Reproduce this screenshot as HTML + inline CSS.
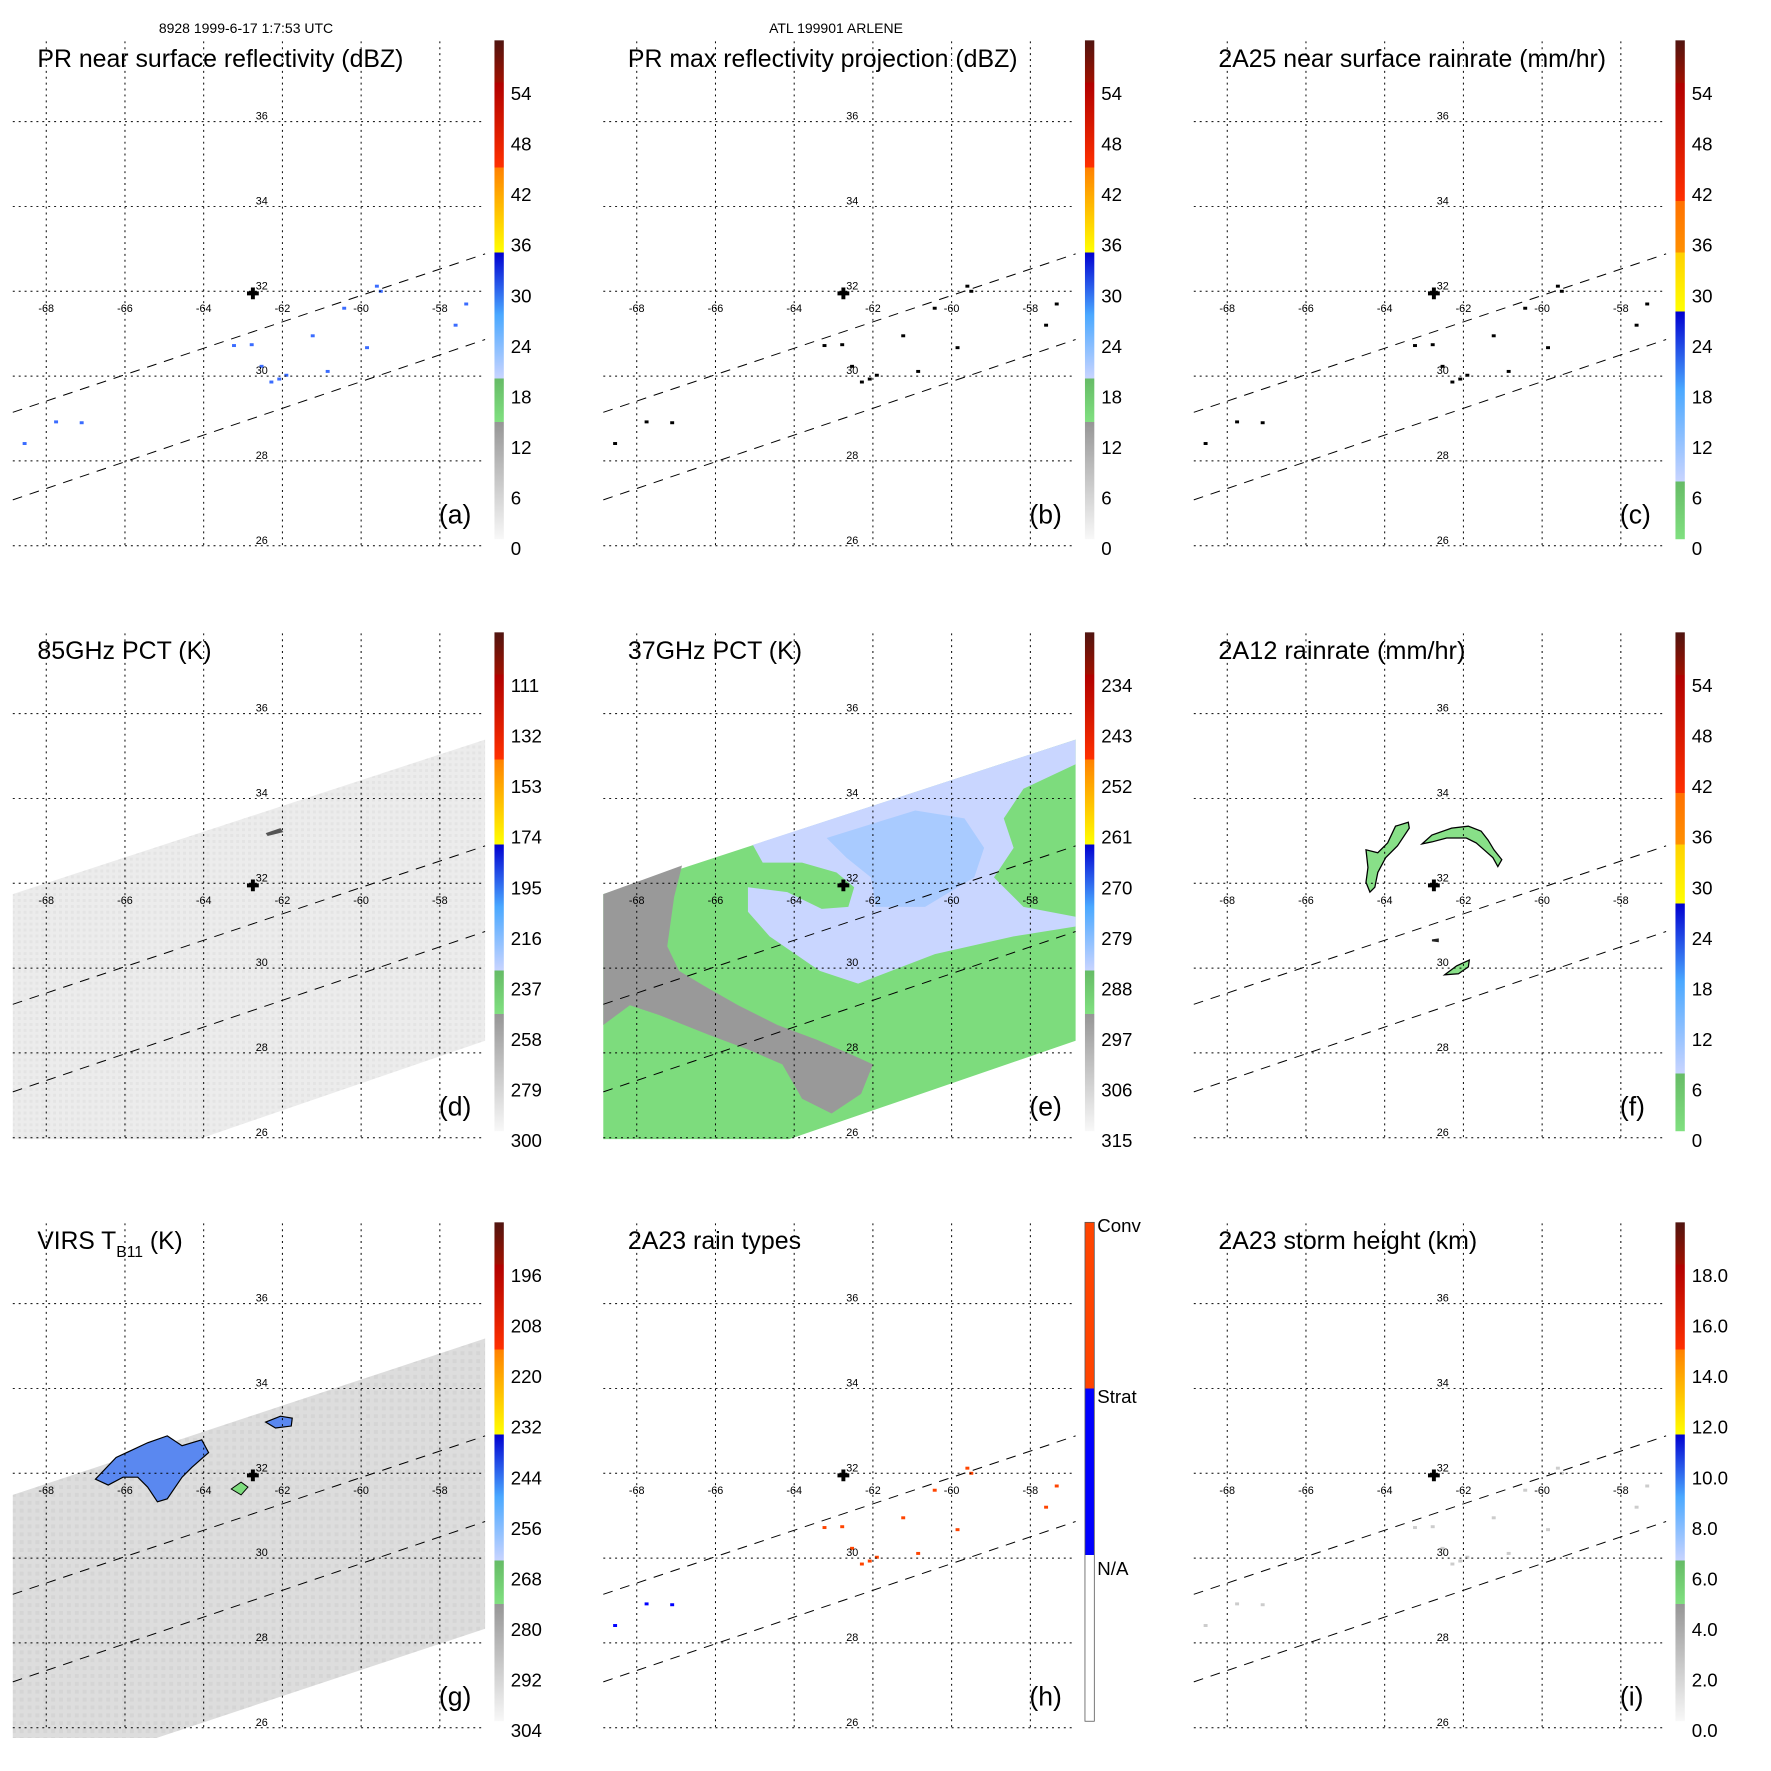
<!DOCTYPE html>
<html><head><meta charset="utf-8"><style>
html,body{margin:0;padding:0;background:#fff;}
svg{display:block;font-family:"Liberation Sans",Arial,sans-serif;}
</style></head><body>
<svg id="fig" width="1771" height="1771" viewBox="0 0 1771 1771" xmlns="http://www.w3.org/2000/svg">
<defs>
<pattern id="tex" width="6" height="6" patternUnits="userSpaceOnUse"><rect width="6" height="6" fill="#ececec"/><rect width="3" height="3" fill="#e4e4e4"/></pattern>
<pattern id="tex2" width="8" height="8" patternUnits="userSpaceOnUse"><rect width="8" height="8" fill="#dddddd"/><rect x="4" y="4" width="4" height="4" fill="#d5d5d5"/></pattern>
</defs>
<text x="246" y="33" font-size="14" text-anchor="middle">8928 1999-6-17 1:7:53 UTC</text>
<text x="836" y="33" font-size="14" text-anchor="middle">ATL 199901 ARLENE</text>
</svg>
<script>
const NS='http://www.w3.org/2000/svg';
const svg=document.getElementById('fig');
// ---- data ----
const lonTicks=[-68,-66,-64,-62,-60,-58];
const latTicks=[36,34,32,30,28,26];
const ticksDBZ=['54','48','42','36','30','24','18','12','6','0'];
const ticks85=['111','132','153','174','195','216','237','258','279','300'];
const ticks37=['234','243','252','261','270','279','288','297','306','315'];
const ticksVIRS=['196','208','220','232','244','256','268','280','292','304'];
const ticksHeight=['18.0','16.0','14.0','12.0','10.0','8.0','6.0','4.0','2.0','0.0'];
const rainTypeLabels=['Conv','Strat','N/A'];
const stormCenter=[-62.75,31.95];
const speckLon=[-63.23,-62.78,-62.53,-62.28,-62.08,-61.9,-61.23,-60.85,-60.43,-59.6,-57.33,-67.75,-67.1,-68.55,-59.85,-59.5,-57.6];
const speckLat=[30.72,30.74,30.23,29.86,29.93,30.02,30.95,30.11,31.6,32.12,31.7,28.92,28.9,28.41,30.67,32.0,31.2];

function lonX(lon){return 47+(lon+68)*40;}
function latY(lat){return 296-(lat-32)*43.1;}
function el(tag,parent){const e=document.createElementNS(NS,tag);parent.appendChild(e);return e;}

const bandsA=[[0,'#f8f8f8'],[0.235,'#969696'],[0.235,'#80e080'],[0.322,'#66bb66'],[0.322,'#c8d4ff'],[0.45,'#4aa8ff'],[0.575,'#0000d0'],[0.575,'#ffff00'],[0.745,'#ff8000'],[0.745,'#ff3000'],[0.915,'#b00000'],[0.915,'#a01000'],[1,'#501510']];
const bandsC=[[0,'#80e080'],[0.116,'#66bb66'],[0.116,'#c8d4ff'],[0.3,'#4aa8ff'],[0.456,'#0000d0'],[0.456,'#ffff00'],[0.575,'#ffd000'],[0.575,'#ff9000'],[0.678,'#ff7000'],[0.678,'#ff3000'],[0.914,'#b00000'],[0.914,'#a01000'],[1,'#501510']];
const bandsH=[[0,'#ffffff'],[0.333,'#ffffff'],[0.333,'#0000ff'],[0.667,'#0000ff'],[0.667,'#ff4400'],[1,'#ff4400']];

const panels=[
 {c:0,r:0,t:'PR near surface reflectivity (dBZ)',tl:372,l:'(a)',ticks:ticksDBZ,b:bandsA,k:'a'},
 {c:1,r:0,t:'PR max reflectivity projection (dBZ)',tl:396,l:'(b)',ticks:ticksDBZ,b:bandsA,k:'b'},
 {c:2,r:0,t:'2A25 near surface rainrate (mm/hr)',tl:394,l:'(c)',ticks:ticksDBZ,b:bandsC,k:'c'},
 {c:0,r:1,t:'85GHz PCT (K)',tl:177,l:'(d)',ticks:ticks85,b:bandsA,k:'d'},
 {c:1,r:1,t:'37GHz PCT (K)',tl:177,l:'(e)',ticks:ticks37,b:bandsA,k:'e'},
 {c:2,r:1,t:'2A12 rainrate (mm/hr)',tl:251,l:'(f)',ticks:ticksDBZ,b:bandsC,k:'f'},
 {c:0,r:2,t:'VIRS',tl:0,l:'(g)',ticks:ticksVIRS,b:bandsA,k:'g'},
 {c:1,r:2,t:'2A23 rain types',tl:176,l:'(h)',ticks:null,b:bandsH,k:'h'},
 {c:2,r:2,t:'2A23 storm height (km)',tl:263,l:'(i)',ticks:ticksHeight,b:bandsA,k:'i'}
];
const colX=[0,590.5,1181], rowY=[0,592,1182];

function poly(g,pts,fill,stroke,sw,name){
 const p=el('polygon',g);
 
 
 p.setAttribute('points',pts.map(q=>q.join(',')).join(' '));
 p.setAttribute('fill',fill);
 if(stroke){p.setAttribute('stroke',stroke);p.setAttribute('stroke-width',sw);}
 return p;
}

panels.forEach(P=>{
 const g=el('g',svg);
 
 
 g.setAttribute('transform','translate('+colX[P.c]+','+rowY[P.r]+') scale(0.984)');
 const swath=[[13,307],[493,150],[493,456],[202,556],[13,556]];
 if(P.k==='d'){poly(g,swath,'url(#tex)',null,0,'pct85-swath');
   poly(g,[[270,245],[285,240],[288,244],[272,248]],'#555',null,0,'pct85-cold-spot');}
 if(P.k==='e'){
   poly(g,swath,'#7ddc7d',null,0,'pct37-swath');
   poly(g,[[13,307],[93,278],[85,310],[78,360],[90,385],[115,400],[150,420],[190,440],[230,455],[265,470],[287,480],[275,510],[245,530],[215,515],[195,480],[160,465],[120,450],[70,430],[40,420],[13,440]],'#999',null,0,'pct37-warm-region');
   poly(g,[[165,257],[493,150],[493,175],[440,200],[420,230],[430,260],[410,290],[440,320],[493,330],[493,340],[430,350],[350,368],[272,398],[233,385],[182,350],[160,325],[160,300],[200,305],[235,322],[262,320],[268,300],[250,285],[215,275],[175,275]],'#c9d6ff',null,0,'pct37-cold-region');
   poly(g,[[240,250],[330,222],[380,230],[400,260],[390,290],[340,320],[290,320],[285,290],[260,270]],'#a9cbff',null,0,'pct37-core');
 }
 if(P.k==='g'){
   poly(g,[[13,318],[493,159],[493,454],[159,565],[13,565]],'url(#tex2)',null,0,'virs-swath');
   poly(g,[[97,302],[118,280],[150,265],[170,258],[185,268],[205,262],[212,275],[195,290],[185,300],[170,322],[160,325],[150,310],[140,300],[125,300],[110,308]],'#5a88f0','#000',1.2,'virs-cold-cloud');
   poly(g,[[270,244],[285,238],[297,240],[296,248],[280,250]],'#5a88f0','#000',1.2,'virs-cold-cloud-2');
   poly(g,[[235,312],[245,305],[252,310],[245,318]],'#7ddc7d','#000',1,'virs-cloud-3');
 }
 if(P.k==='f'){
   poly(g,[[231,234],[218,238],[210,255],[200,265],[188,262],[190,280],[188,295],[192,305],[197,300],[200,285],[208,270],[220,258],[232,240]],'#88e088','#000',1.3,'rain-band-west');
   poly(g,[[245,256],[255,247],[275,240],[292,238],[305,243],[312,252],[318,262],[326,272],[322,279],[317,270],[308,262],[300,255],[290,250],[270,250],[255,254]],'#88e088','#000',1.3,'rain-band-north');
   poly(g,[[268,389],[280,380],[293,374],[292,381],[282,388]],'#88e088','#000',1.3,'rain-band-south');
   poly(g,[[255,353],[262,352],[262,356],[255,355]],'#222',null,0,'rain-speck');
 }
 const spColor={a:'#3a6cff',b:'#000',c:'#000',h:'#ff4400',i:'#cccccc'}[P.k];
 if(spColor){
  speckLon.forEach((lo,i)=>{
   const r=el('rect',g);
   
   
   r.setAttribute('x',lonX(lo)-2);r.setAttribute('y',latY(speckLat[i])-1.5);
   r.setAttribute('width',4);r.setAttribute('height',3);
   r.setAttribute('fill',P.k==='h'&&lo<-64?'#0000ff':spColor);
  });
 }
 lonTicks.forEach(lo=>{
  const l=el('line',g);
  
  
  l.setAttribute('x1',lonX(lo));l.setAttribute('x2',lonX(lo));l.setAttribute('y1',42);l.setAttribute('y2',558);
  l.setAttribute('stroke','#000');l.setAttribute('stroke-width',1);l.setAttribute('stroke-dasharray','2,4');
  const t=el('text',g);
  
  
  t.setAttribute('x',lonX(lo));t.setAttribute('y',317);t.setAttribute('font-size',11);t.setAttribute('text-anchor','middle');
  t.textContent=lo;
 });
 latTicks.forEach(la=>{
  const l=el('line',g);
  
  
  l.setAttribute('x1',13);l.setAttribute('x2',493);l.setAttribute('y1',latY(la));l.setAttribute('y2',latY(la));
  l.setAttribute('stroke','#000');l.setAttribute('stroke-width',1);l.setAttribute('stroke-dasharray','2,4');
  const t=el('text',g);
  
  
  t.setAttribute('x',266);t.setAttribute('y',latY(la)-2);t.setAttribute('font-size',11);t.setAttribute('text-anchor','middle');
  t.textContent=la;
 });
 [[[13,419],[493,258]],[[13,508],[493,345]]].forEach(s=>{
  const l=el('line',g);
  
  
  l.setAttribute('x1',s[0][0]);l.setAttribute('y1',s[0][1]);l.setAttribute('x2',s[1][0]);l.setAttribute('y2',s[1][1]);
  l.setAttribute('stroke','#000');l.setAttribute('stroke-width',1);l.setAttribute('stroke-dasharray','10,8');
 });
 const cx=lonX(stormCenter[0]), cy=latY(stormCenter[1]);
 const cr=el('path',g);
 
 
 cr.setAttribute('d','M'+(cx-6)+' '+cy+'H'+(cx+6)+'M'+cx+' '+(cy-6)+'V'+(cy+6));
 cr.setAttribute('stroke','#000');cr.setAttribute('stroke-width',4);
 const tt=el('text',g);
 
 
 tt.setAttribute('x',38);tt.setAttribute('y',68);tt.setAttribute('font-size',25);
 if(P.k==='g'){
  tt.innerHTML='VIRS T<tspan font-size="16" dy="8">B11</tspan><tspan dy="-8"> (K)</tspan>';
 } else {
  tt.textContent=P.t;
  tt.setAttribute('textLength',P.tl);tt.setAttribute('lengthAdjust','spacingAndGlyphs');
 }
 const lt=el('text',g);
 
 
 lt.setAttribute('x',446);lt.setAttribute('y',532);lt.setAttribute('font-size',27);
 lt.textContent=P.l;
 const gid='cb'+P.k;
 const lg=el('linearGradient',g);
 lg.setAttribute('id',gid);lg.setAttribute('x1',0);lg.setAttribute('y1',1);lg.setAttribute('x2',0);lg.setAttribute('y2',0);
 P.b.forEach(s=>{const st=el('stop',lg);st.setAttribute('offset',s[0]);st.setAttribute('stop-color',s[1]);});
 const cb=el('rect',g);
 
 
 cb.setAttribute('x',502.5);cb.setAttribute('y',41);cb.setAttribute('width',9.5);cb.setAttribute('height',507);
 cb.setAttribute('fill','url(#'+gid+')');
 if(P.k==='h'){cb.setAttribute('stroke','#555');cb.setAttribute('stroke-width',0.8);}
 if(P.ticks){
  P.ticks.forEach((v,i)=>{
   const t=el('text',g);
   
   
   t.setAttribute('x',519);t.setAttribute('y',95+i*51.4);t.setAttribute('font-size',19);t.setAttribute('dominant-baseline','central');
   t.textContent=v;
  });
 } else {
  const ys=[44,218,393];
  rainTypeLabels.forEach((v,i)=>{
   const t=el('text',g);
   
   
   t.setAttribute('x',515);t.setAttribute('y',ys[i]);t.setAttribute('font-size',19);t.setAttribute('dominant-baseline','central');
   t.textContent=v;
  });
 }
});
</script>
</body></html>
